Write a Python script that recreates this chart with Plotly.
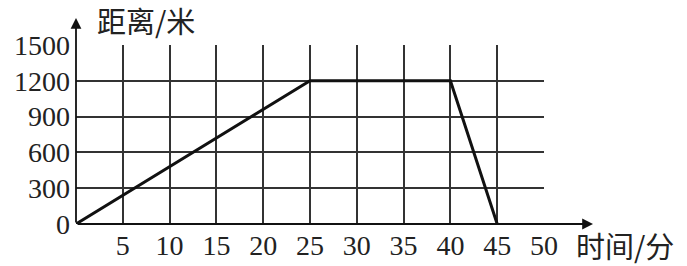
import plotly.graph_objects as go

time_min = [0, 25, 40, 45]
distance_m = [0, 1200, 1200, 0]
x_ticks = [5, 10, 15, 20, 25, 30, 35, 40, 45, 50]
y_ticks = [0, 300, 600, 900, 1200, 1500]
x_title = "时间/分"
y_title = "距离/米"

W, H = 687, 266
L, R, T, B = 76, 143, 45, 42
pw = W - L - R
ph = H - T - B

fig = go.Figure()
fig.add_trace(go.Scatter(x=time_min, y=distance_m, mode="lines",
                         line=dict(color="#111", width=3), hoverinfo="skip",
                         showlegend=False, cliponaxis=False))

tick_font = dict(family="Liberation Serif", size=28, color="#222")
fig.update_layout(
    width=W, height=H, margin=dict(l=L, r=R, t=T, b=B, autoexpand=False),
    paper_bgcolor="white", plot_bgcolor="white",
    font=dict(family="Liberation Serif"),
    xaxis=dict(range=[0, 50], tickvals=x_ticks, ticktext=[str(v) for v in x_ticks],
               showgrid=True, gridcolor="#333", gridwidth=1.5, zeroline=False,
               showline=False, ticks="", tickfont=tick_font, ticklabelstandoff=2,
               fixedrange=True, automargin=False),
    yaxis=dict(range=[0, 1500], tickvals=y_ticks, ticktext=[str(v) for v in y_ticks],
               showgrid=True, gridcolor="#333", gridwidth=1.5, zeroline=False,
               showline=False, ticks="", tickfont=tick_font, ticklabelstandoff=5,
               fixedrange=True, automargin=False),
)

# axes with arrows
x_end = (593 - L) / pw
y_end = (H - 18 - B) / ph
fig.add_annotation(x=x_end, y=0, xref="paper", yref="paper", ax=-(593 - L), ay=0,
                   text="", showarrow=True, arrowhead=2, arrowsize=1.2, arrowwidth=1.8,
                   arrowcolor="#111")
fig.add_annotation(x=0, y=y_end, xref="paper", yref="paper", ax=0, ay=(H - B - 18),
                   text="", showarrow=True, arrowhead=2, arrowsize=1.2, arrowwidth=1.8,
                   arrowcolor="#111")

cjk_font = dict(family="Noto Sans CJK SC", size=29, color="#222")
fig.add_annotation(x=(146 - L) / pw, y=(H - 20 - B) / ph, xref="paper", yref="paper",
                   text=y_title, showarrow=False, font=cjk_font,
                   xanchor="center", yanchor="middle")
fig.add_annotation(x=(625 - L) / pw, y=(H - 245 - B) / ph, xref="paper", yref="paper",
                   text=x_title, showarrow=False, font=cjk_font,
                   xanchor="center", yanchor="middle")

fig.write_html("out.html")
